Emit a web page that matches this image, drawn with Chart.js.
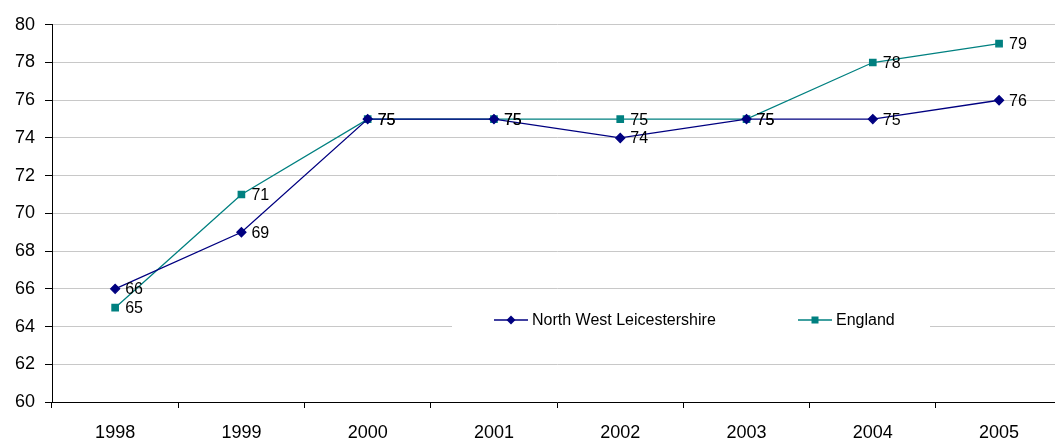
<!DOCTYPE html>
<html>
  <head>
    <script src="https://cdn.jsdelivr.net/npm/chart.js"></script>
    <style>
      body {
        margin: 0;
        background: white;
        overflow: hidden;
        font-family: Arial, "Liberation Sans", sans-serif;
      }
      #wrap {
        width: 1068px;
        height: 435px;
        margin-top: 4px;
      }
    </style>
  </head>
  <body>
    <div id="wrap"><canvas id="chart"></canvas></div>
    <script>
      const years = ['1998', '1999', '2000', '2001', '2002', '2003', '2004', '2005'];
      const nwLeics = [66, 69, 75, 75, 74, 75, 75, 76];
      const england = [65, 71, 75, 75, 75, 75, 78, 79];
      const yTicks = [60, 62, 64, 66, 68, 70, 72, 74, 76, 78, 80];

      const FONT = 'Arial, "Liberation Sans", sans-serif';

      // value labels to the right of each point
      const pointLabels = {
        id: 'pointLabels',
        afterDatasetsDraw(chart) {
          const ctx = chart.ctx;
          ctx.save();
          ctx.font = '16px ' + FONT;
          ctx.fillStyle = '#000';
          ctx.textBaseline = 'middle';
          ctx.textAlign = 'left';
          chart.data.datasets.forEach((ds, i) => {
            chart.getDatasetMeta(i).data.forEach((pt, j) => {
              ctx.fillText(String(ds.data[j]), pt.x + 10, pt.y + 1);
            });
          });
          ctx.restore();
        }
      };

      // legend sitting inside the plot, on a white strip
      const innerLegend = {
        id: 'innerLegend',
        afterDraw(chart) {
          const ctx = chart.ctx;
          const y = 316;
          ctx.save();
          ctx.fillStyle = '#fff';
          ctx.fillRect(452, 302, 478, 28);
          ctx.font = '16px ' + FONT;
          ctx.textBaseline = 'middle';
          ctx.fillStyle = '#000';
          const items = [
            { x: 494, ds: chart.data.datasets[0] },
            { x: 798, ds: chart.data.datasets[1] }
          ];
          items.forEach(it => {
            ctx.strokeStyle = it.ds.borderColor;
            ctx.lineWidth = 1.3;
            ctx.beginPath();
            ctx.moveTo(it.x, y);
            ctx.lineTo(it.x + 34, y);
            ctx.stroke();
            ctx.fillStyle = it.ds.borderColor;
            const cx = it.x + 17;
            if (it.ds.pointStyle === 'rectRot') {
              ctx.beginPath();
              ctx.moveTo(cx, y - 4.5);
              ctx.lineTo(cx + 4.5, y);
              ctx.lineTo(cx, y + 4.5);
              ctx.lineTo(cx - 4.5, y);
              ctx.closePath();
              ctx.fill();
            } else {
              ctx.fillRect(cx - 3.5, y - 3.5, 7, 7);
            }
            ctx.fillStyle = '#000';
            ctx.fillText(it.ds.label, it.x + 38, y + 1);
          });
          ctx.restore();
        }
      };

      new Chart(document.getElementById('chart'), {
        type: 'line',
        data: {
          labels: years,
          datasets: [
            {
              label: 'North West Leicestershire',
              data: nwLeics,
              borderColor: '#000080',
              backgroundColor: '#000080',
              borderWidth: 1.3,
              pointStyle: 'rectRot',
              pointRadius: 4.5,
              pointHoverRadius: 4.5,
              tension: 0
            },
            {
              label: 'England',
              data: england,
              borderColor: '#008080',
              backgroundColor: '#008080',
              borderWidth: 1.3,
              pointStyle: 'rect',
              pointRadius: 4.5,
              pointHoverRadius: 4.5,
              tension: 0
            }
          ]
        },
        options: {
          responsive: true,
          maintainAspectRatio: false,
          animation: false,
          layout: { padding: { top: 15, right: 3, left: 0, bottom: 0 } },
          plugins: {
            legend: { display: false },
            tooltip: { enabled: false }
          },
          scales: {
            x: {
              offset: true,
              grid: {
                offset: true,
                drawOnChartArea: false,
                drawTicks: true,
                tickLength: 6,
                tickColor: '#000'
              },
              border: { color: '#000', width: 1 },
              ticks: {
                color: '#000',
                font: { size: 18, family: FONT },
                padding: 14,
                maxRotation: 0
              },
              afterFit(scale) { scale.height = 37; }
            },
            y: {
              min: 60,
              max: 80,
              afterBuildTicks(scale) {
                scale.ticks = yTicks.map(v => ({ value: v }));
              },
              grid: {
                color: '#c8c8c8',
                tickColor: '#000',
                tickLength: 7
              },
              border: { color: '#000', width: 1 },
              ticks: {
                color: '#000',
                font: { size: 18, family: FONT },
                padding: 10
              },
              afterFit(scale) { scale.width = 52; }
            }
          }
        },
        plugins: [pointLabels, innerLegend]
      });
    </script>
  </body>
</html>
